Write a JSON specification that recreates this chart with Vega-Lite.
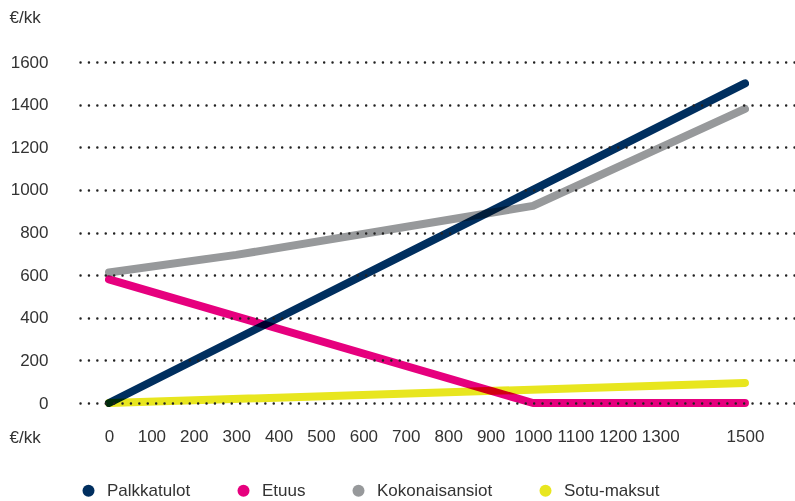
{
  "$schema": "https://vega.github.io/schema/vega-lite/v6.json",
  "width": 715,
  "height": 341,
  "autosize": {"type": "none"},
  "padding": {"left": 80, "top": 62, "right": 0, "bottom": 98},
  "background": "white",
  "config": {
    "view": {"stroke": null},
    "font": "Liberation Sans",
    "axis": {"labelFont": "Liberation Sans", "titleFont": "Liberation Sans"},
    "legend": {"labelFont": "Liberation Sans"}
  },
  "data": {
    "values": [
      {"series": "Palkkatulot", "x": 0, "y": 0},
      {"series": "Palkkatulot", "x": 1000, "y": 1000},
      {"series": "Palkkatulot", "x": 1500, "y": 1500},
      {"series": "Etuus", "x": 0, "y": 580},
      {"series": "Etuus", "x": 1000, "y": 0},
      {"series": "Etuus", "x": 1500, "y": 0},
      {"series": "Kokonaisansiot", "x": 0, "y": 612},
      {"series": "Kokonaisansiot", "x": 300, "y": 695},
      {"series": "Kokonaisansiot", "x": 1000, "y": 925},
      {"series": "Kokonaisansiot", "x": 1500, "y": 1380},
      {"series": "Sotu-maksut", "x": 0, "y": 0},
      {"series": "Sotu-maksut", "x": 1500, "y": 94}
    ]
  },
  "mark": {"type": "line", "strokeWidth": 8, "strokeCap": "round", "strokeJoin": "round", "blend": "multiply", "clip": false},
  "encoding": {
    "x": {
      "field": "x",
      "type": "quantitative",
      "scale": {"domain": [-68.4, 1618], "nice": false, "zero": false},
      "axis": {
        "values": [0, 100, 200, 300, 400, 500, 600, 700, 800, 900, 1000, 1100, 1200, 1300, 1500],
        "format": "d",
        "grid": false,
        "domain": false,
        "ticks": false,
        "labelFontSize": 17,
        "labelColor": "#333333",
        "labelPadding": 25,
        "labelOverlap": false,
        "labelBound": false,
        "title": "€/kk",
        "titleFontSize": 17,
        "titleFontWeight": "normal",
        "titleColor": "#333333",
        "titleAlign": "left",
        "titleBaseline": "middle",
        "titleX": -71,
        "titleY": 34
      }
    },
    "y": {
      "field": "y",
      "type": "quantitative",
      "scale": {"domain": [0, 1600], "nice": false},
      "axis": {
        "values": [0, 200, 400, 600, 800, 1000, 1200, 1400, 1600],
        "format": "d",
        "zindex": 1,
        "grid": true,
        "gridColor": "#222222",
        "gridWidth": 2.4,
        "gridDash": [0.1, 8.3],
        "gridCap": "round",
        "domain": false,
        "ticks": false,
        "labelFontSize": 17,
        "labelColor": "#333333",
        "labelPadding": 32,
        "labelBaseline": "middle",
        "title": "€/kk",
        "titleAngle": 0,
        "titleFontSize": 17,
        "titleFontWeight": "normal",
        "titleColor": "#333333",
        "titleAlign": "left",
        "titleBaseline": "middle",
        "titleX": -71,
        "titleY": -45
      }
    },
    "color": {
      "field": "series",
      "type": "nominal",
      "sort": null,
      "scale": {
        "domain": ["Palkkatulot", "Etuus", "Kokonaisansiot", "Sotu-maksut"],
        "range": ["#002f5f", "#e6007e", "#97999b", "#e8e61f"]
      },
      "legend": {
        "orient": "none",
        "direction": "horizontal",
        "legendX": 0,
        "legendY": 420,
        "title": null,
        "symbolType": "circle",
        "symbolSize": 144,
        "symbolStrokeWidth": 0,
        "symbolOpacity": 1,
        "labelFontSize": 17,
        "labelColor": "#333333",
        "labelOffset": 10,
        "columnPadding": 44,
        "encode": {
          "symbols": {
            "update": {
              "fill": {"scale": "color", "field": "value"},
              "fillOpacity": {"value": 1},
              "strokeWidth": {"value": 0}
            }
          }
        }
      }
    }
  }
}
